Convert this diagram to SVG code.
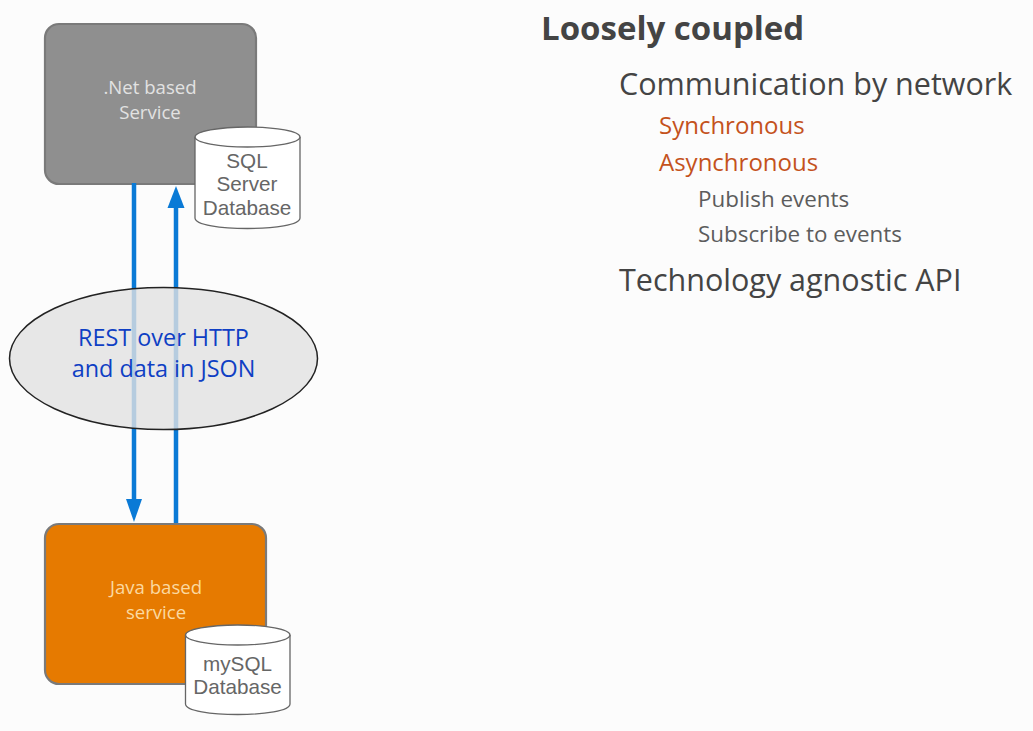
<svg xmlns="http://www.w3.org/2000/svg" width="1033" height="731" viewBox="0 0 1033 731">
<style>
text{font-family:"Open Sans","Noto Sans","Liberation Sans",sans-serif}
.box{stroke:#7a7a7a;stroke-width:2.200}
.cyl{fill:#fff;stroke:#666;stroke-width:1.300}
.cylt{font-family:"Liberation Sans",Arial,sans-serif;font-size:20.700px;fill:#666;text-anchor:middle}
.lbl{font-size:18.600px;text-anchor:middle}
.wire{stroke:#0a7ad6;stroke-width:4.500;fill:none}
.head{fill:#0a7ad6}
.h2{font-size:30.500px;fill:#444}
.h3{font-size:24px;fill:#c4521c}
.h4{font-size:22.400px;fill:#5c5c5c}
</style>
<rect width="1033" height="731" fill="#fcfcfc"/>
<g id="net-service">
<rect class="box" x="45" y="24" width="211" height="160" rx="14" fill="#8f8f8f"/>
<text class="lbl" x="150" y="94" fill="#e2e2e2">.Net based</text>
<text class="lbl" x="150" y="119" fill="#e2e2e2">Service</text>
</g>
<g id="java-service">
<rect class="box" x="45" y="524" width="221" height="160" rx="14" fill="#e67a00"/>
<text class="lbl" x="156" y="594" fill="#fbd9a0">Java based</text>
<text class="lbl" x="156" y="619" fill="#fbd9a0">service</text>
</g>
<g id="connectors">
<path class="wire" d="M134 183V502"/>
<polygon class="head" points="126,499 142,499 134,522"/>
<path class="wire" d="M176 523V205"/>
<polygon class="head" points="167.500,208 184.500,208 176,186"/>
</g>
<g id="sql-db">
<path class="cyl" d="M195 137V218C195 232 300 232 300 218V137"/>
<ellipse class="cyl" cx="247.500" cy="137" rx="52.500" ry="10"/>
<text class="cylt" x="247" y="168">SQL</text>
<text class="cylt" x="247" y="191">Server</text>
<text class="cylt" x="247" y="215">Database</text>
</g>
<g id="mysql-db">
<path class="cyl" d="M185.500 635V704C185.500 718 290 718 290 704V635"/>
<ellipse class="cyl" cx="237.750" cy="635" rx="52.250" ry="10"/>
<text class="cylt" x="237.500" y="671">mySQL</text>
<text class="cylt" x="237.500" y="694">Database</text>
</g>
<g id="rest-protocol">
<ellipse cx="163.500" cy="358.500" rx="154" ry="71" fill="#e1e1e1" fill-opacity=".8" stroke="#222" stroke-width="1.500"/>
<text x="163.500" y="346" font-size="23.400" font-weight="500" fill="#0f3fc4" text-anchor="middle">REST over HTTP</text>
<text x="163.500" y="377" font-size="23.400" font-weight="500" fill="#0f3fc4" text-anchor="middle">and data in JSON</text>
</g>
<g id="bullets">
<text x="541" y="40" font-size="33" font-weight="700" fill="#444">Loosely coupled</text>
<text class="h2" x="619" y="95">Communication by network</text>
<text class="h3" x="659" y="134">Synchronous</text>
<text class="h3" x="659" y="171">Asynchronous</text>
<text class="h4" x="698" y="207">Publish events</text>
<text class="h4" x="698" y="242">Subscribe to events</text>
<text class="h2" x="619" y="291">Technology agnostic API</text>
</g>
</svg>
